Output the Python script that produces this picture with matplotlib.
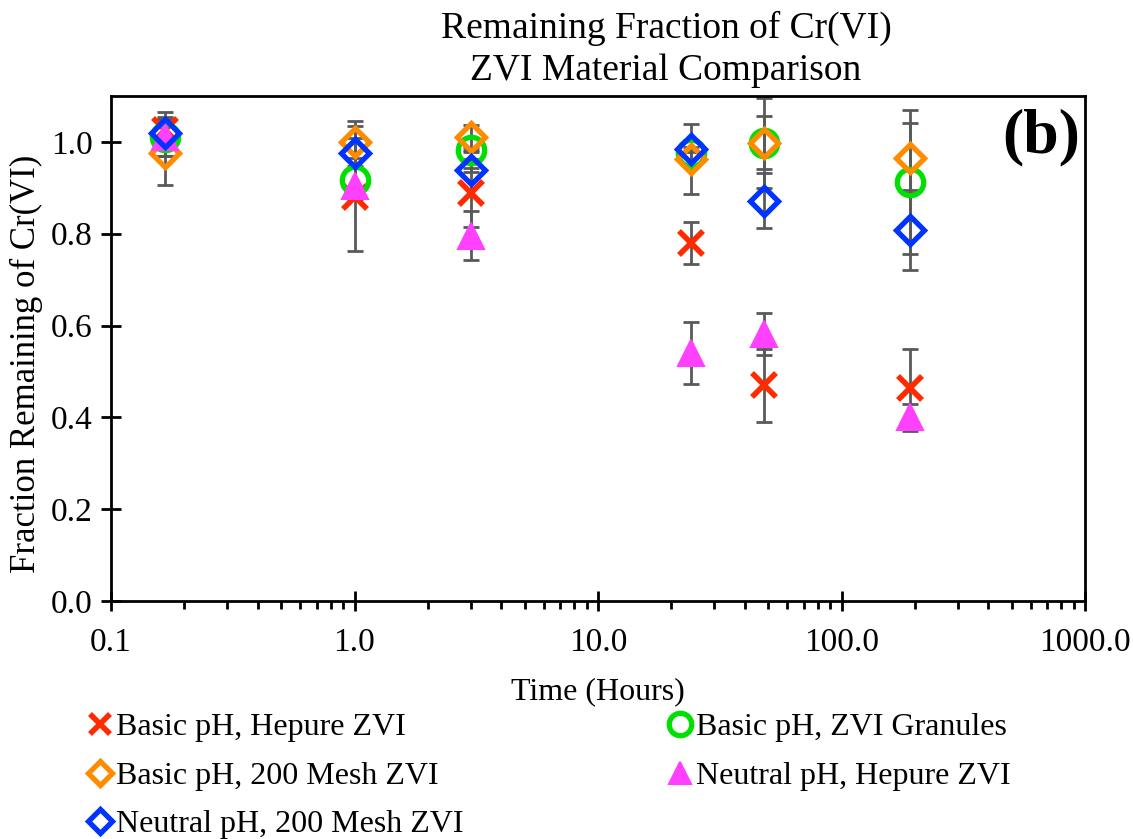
import matplotlib
matplotlib.use("Agg")
import matplotlib.pyplot as plt
import numpy as np

plt.rcParams['font.family'] = ['Liberation Serif', 'DejaVu Serif']

time_h = [0.1667, 1.0, 3.0, 24.0, 48.0, 192.0]

labels = ["Basic pH, Hepure ZVI", "Basic pH, ZVI Granules", "Basic pH, 200 Mesh ZVI",
          "Neutral pH, Hepure ZVI", "Neutral pH, 200 Mesh ZVI"]

basic_hepure = [1.025, 0.88, 0.889, 0.78, 0.47, 0.465]
basic_hepure_err = [0.04, 0.005, 0.074, 0.046, 0.08, 0.083]

basic_granules = [1.01, 0.917, 0.983, 0.975, 0.998, 0.913]
basic_granules_err = [0.04, 0.03, 0.005, 0.03, 0.098, 0.157]

basic_mesh = [0.976, 1.0, 1.01, 0.963, 0.998, 0.965]
basic_mesh_err = [0.07, 0.035, 0.027, 0.076, 0.058, 0.076]

neutral_hepure = [1.01, 0.904, 0.796, 0.54, 0.582, 0.40]
neutral_hepure_err = [0.04, 0.142, 0.053, 0.068, 0.046, 0.03]

neutral_mesh = [1.02, 0.976, 0.939, 0.984, 0.872, 0.808]
neutral_mesh_err = [0.035, 0.033, 0.005, 0.005, 0.06, 0.088]

fig = plt.figure(figsize=(11.33, 8.39), dpi=100)
ax = fig.add_axes([111/1133, 1-601/839, (1085-111)/1133, (601-96)/839])

series = [
    (basic_hepure, basic_hepure_err, dict(marker='x', color='#FF2A00', mfc='#FF2A00', mec='#FF2A00', ms=17, mew=4)),
    (basic_granules, basic_granules_err, dict(marker='o', color='#00E000', mfc='none', mec='#00E000', ms=19, mew=3.8)),
    (basic_mesh, basic_mesh_err, dict(marker='D', color='#FF8C00', mfc='none', mec='#FF8C00', ms=14.5, mew=3.8)),
    (neutral_hepure, neutral_hepure_err, dict(marker='^', color='#FF40FF', mfc='#FF40FF', mec='#FF40FF', ms=19, mew=1.5)),
    (neutral_mesh, neutral_mesh_err, dict(marker='D', color='#0033FF', mfc='none', mec='#0033FF', ms=14.5, mew=3.8)),
]

handles = []
for (vals, errs, st), lab in zip(series, labels):
    ax.errorbar(time_h, vals, yerr=errs, fmt='none', ecolor='#595959', elinewidth=2,
                capsize=6, capthick=2, zorder=2)
    h, = ax.plot(time_h, vals, linestyle='none', label=lab, zorder=3, **st)
    handles.append(h)

ax.set_xscale('log')
ax.set_xlim(0.1, 1000)
ax.set_ylim(0, 1.1)
ax.set_xticks([0.1, 1, 10, 100, 1000])
ax.set_xticklabels(["0.1", "1.0", "10.0", "100.0", "1000.0"])
ax.set_yticks([0.0, 0.2, 0.4, 0.6, 0.8, 1.0])
ax.set_yticklabels(["0.0", "0.2", "0.4", "0.6", "0.8", "1.0"])
ax.tick_params(axis='both', which='major', direction='inout', length=14, width=2,
               labelsize=24)
ax.tick_params(axis='x', which='major', pad=12)
ax.tick_params(axis='y', which='major', pad=6)
ax.tick_params(axis='x', which='minor', direction='out', length=6, width=2)
ax.xaxis.set_minor_formatter(matplotlib.ticker.NullFormatter())
for sp in ax.spines.values():
    sp.set_linewidth(2)

ax.set_xlabel("Time (Hours)", fontsize=23, labelpad=14)
ax.set_ylabel("Fraction Remaining of Cr(VI)", fontsize=25)
ax.yaxis.set_label_coords(-0.07, 0.47)
fig.text(666/1133, 1-49/839, "Remaining Fraction of Cr(VI)\nZVI Material Comparison",
         ha='center', va='center', fontsize=27, linespacing=1.28)
ax.text(0.995, 0.975, "(b)", transform=ax.transAxes, ha='right', va='top',
        fontsize=46, fontweight='bold')

order = [0, 2, 4, 1, 3]
fig.legend([handles[i] for i in order], [labels[i] for i in order],
           loc='upper left', bbox_to_anchor=(87/1133, 1-713/839), ncol=2,
           frameon=False, fontsize=23, handlelength=0.8, handletextpad=0.1,
           columnspacing=6.4, labelspacing=0.6, markerscale=0.85,
           borderaxespad=0, borderpad=0)

fig.savefig("out.png", dpi=100)
